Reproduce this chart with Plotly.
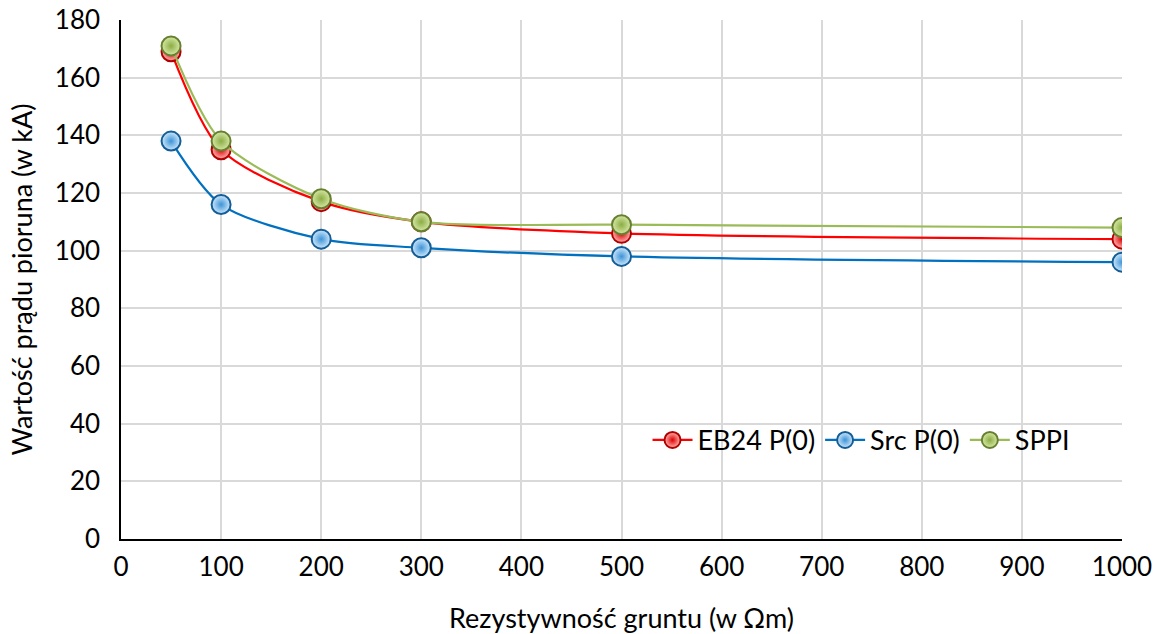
import plotly.graph_objects as go

x_vals = [50, 100, 200, 300, 500, 1000]
eb24 = [169, 135, 117, 110, 106, 104]
src = [138, 116, 104, 101, 98, 96]
sppi = [171, 138, 118, 110, 109, 108]

series = [
    ("EB24 P(0)", eb24, "#ff0000", "#ffb3b3", "#e00000", "#b00000"),
    ("Src P(0)", src, "#0070c0", "#cfe8fb", "#3d94d8", "#145d96"),
    ("SPPI", sppi, "#9bbb59", "#d6e8a6", "#8cad44", "#66802f"),
]

fig = go.Figure()
for name, ys, lc, mc, gc, oc in series:
    fig.add_trace(go.Scatter(
        x=x_vals, y=ys, name=name, mode="lines+markers",
        line=dict(color=lc, width=2.2, shape="spline", smoothing=0.8),
        marker=dict(size=19, color=mc, line=dict(color=oc, width=2),
                    gradient=dict(type="radial", color=gc)),
    ))

font = "Lato, 'Open Sans', sans-serif"
fs = 26
tfs = 27
fig.update_layout(
    width=1162, height=634,
    margin=dict(l=121, r=40, t=20, b=95, autoexpand=False),
    paper_bgcolor="white", plot_bgcolor="white",
    font=dict(family=font, size=fs, color="#000000"),
    legend=dict(orientation="h", x=0.526, y=0.19, yanchor="middle", xanchor="left",
                bgcolor="rgba(255,255,255,0)", font=dict(size=27), itemwidth=40,
                tracegroupgap=0),
    showlegend=True,
)
fig.update_xaxes(
    range=[0, 1000], dtick=100, tick0=0, automargin=False,
    showgrid=True, gridcolor="#d9d9d9", gridwidth=2,
    showline=True, linecolor="#000000", linewidth=1.5,
    zeroline=False, ticks="", ticklabelstandoff=4, ticklabeloverflow="allow",
    tickfont=dict(size=fs),
    title=dict(text="Rezystywność gruntu (w Ωm)", font=dict(size=tfs), standoff=28),
)
fig.update_yaxes(
    range=[0, 180], dtick=20, tick0=0, automargin=False,
    showgrid=True, gridcolor="#d9d9d9", gridwidth=2,
    showline=True, linecolor="#000000", linewidth=1.5,
    zeroline=False, ticks="", ticklabelstandoff=14, ticklabeloverflow="allow",
    tickfont=dict(size=fs),
    title=dict(text="Wartość prądu pioruna (w kA)", font=dict(size=tfs), standoff=14),
)

fig.write_html("out.html", config={"displayModeBar": False},
               post_script="document.body.style.margin='0px';")
